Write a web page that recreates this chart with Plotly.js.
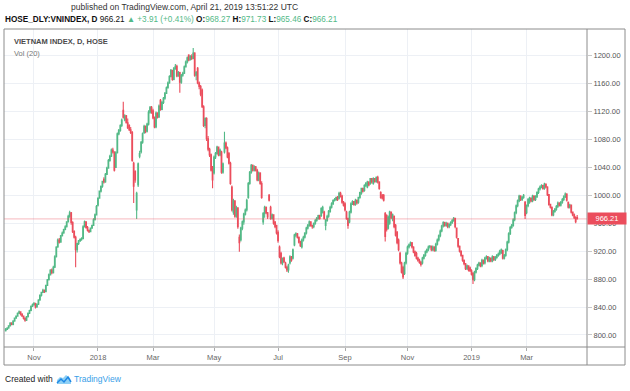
<!DOCTYPE html>
<html>
<head>
<meta charset="utf-8">
<script src="https://cdn.plot.ly/plotly-3.0.1.min.js"></script>
<style>
html,body{margin:0;padding:0;background:#fff;}
#chart{width:630px;height:391px;}
</style>
</head>
<body>
<div id="chart"></div>
<script>
// ---- DATA (VN-Index daily, Oct 2017 – Apr 2019) ----
const firstDay = '2017-10-05';
const lastDay = '2019-04-19';
const holidays = ['2018-01-01','2018-02-14','2018-02-15','2018-02-16','2018-02-19','2018-02-20',
  '2018-04-25','2018-04-30','2018-05-01','2018-09-03','2019-01-01',
  '2019-02-04','2019-02-05','2019-02-06','2019-02-07','2019-02-08','2019-04-15'];

const openV = [
806,808,810,813,817,815,820,824,827,831,833,830,827,824,821,826,831,835,841,
843,845,840,844,850,857,861,864,862,871,879,886,893,889,897,912,926,936,933,942,946,951,
955,962,970,975,961,948,940,922,931,935,937,938,955,962,954,950,948,953,957,965,972,
986,996,1006,1013,1023,1019,1030,1039,1050,1056,1065,1062,1040,1061,1088,1093,1100,1122,1108,1114,1104,1100,
1094,1090,1046,1034,979,1015,1056,1062,1076,1090,1099,1092,1102,1119,1126,
1121,1111,1098,1118,1112,1136,1123,1133,1139,1146,1154,1161,1170,1179,1166,1182,1185,1171,1176,1162,1172,1175,
1184,1191,1201,1194,1199,1196,1204,1172,1182,1161,1156,1151,1127,1100,1110,1081,1066,1058,1040,
1032,1055,1060,1069,1058,1062,1033,1062,1075,1068,1060,1046,1012,976,992,970,982,940,936,953,962,973,
979,997,1017,1033,1043,1036,1041,1036,1022,1032,1017,962,974,983,975,1000,983,967,972,962,957,
947,926,917,903,910,903,897,893,903,912,910,929,943,945,940,933,926,936,940,946,953,957,
962,957,955,960,964,967,971,971,976,976,957,964,970,977,983,988,993,994,997,996,1003,999,990,
988,976,967,962,976,988,991,987,993,990,997,1003,1010,1007,1014,1012,1019,1017,1024,
1017,1024,1020,1026,1019,1004,1000,1000,974,971,953,960,976,966,970,957,947,936,917,903,897,888,903,
917,926,929,932,926,919,917,910,907,904,903,910,914,919,922,926,927,922,926,921,930,936,
942,949,956,961,957,960,955,958,961,964,967,953,938,927,920,914,907,902,895,899,896,
892,888,879,890,895,900,903,899,907,903,910,912,906,910,906,912,908,911,914,916,918,921,
910,914,922,933,945,954,957,965,975,985,992,999,994,997,990,
975,985,990,996,992,999,994,998,1004,1009,1012,1014,1010,1016,1012,1001,987,983,972,977,980,
984,989,986,990,994,998,1002,990,983,986,976,972,968,968.27
];
const highV = [
810,811,814,818,818,821,825,828,832,835,834,831,828,825,827,832,836,842,845,
847,846,845,851,858,862,866,865,872,880,888,894,895,899,914,927,938,939,943,948,952,957,
963,972,978,976,963,950,942,932,936,938,940,957,964,963,956,951,954,958,967,974,986,
997,1007,1014,1021,1026,1032,1041,1052,1058,1067,1068,1063,1063,1090,1095,1102,1110,1134,1116,1115,1110,1102,
1098,1092,1048,1036,1005,1047,1064,1078,1090,1101,1100,1104,1122,1128,1128,
1124,1113,1120,1119,1130,1138,1135,1141,1148,1156,1163,1172,1181,1180,1184,1188,1187,1178,1177,1174,1177,1186,
1193,1199,1202,1201,1202,1211,1205,1178,1184,1163,1158,1153,1129,1112,1112,1085,1068,1060,1042,
1057,1062,1071,1070,1067,1064,1047,1091,1077,1070,1062,1048,1014,995,993,985,983,944,955,964,975,981,
995,1019,1035,1045,1044,1043,1042,1038,1034,1033,1020,976,985,984,976,1002,985,974,973,963,958,
950,928,919,911,912,905,899,902,914,913,924,945,947,946,941,935,938,942,947,955,959,964,
963,958,961,966,969,972,972,983,985,978,966,972,979,985,990,994,996,998,999,1005,1005,1001,992,
990,978,968,978,990,993,992,995,994,998,1005,1011,1011,1016,1019,1021,1020,1025,1025,
1026,1025,1027,1028,1020,1006,1002,1002,976,973,971,978,977,974,971,959,949,938,919,905,899,905,919,
928,931,934,933,927,921,919,912,909,906,912,916,921,924,928,929,928,928,927,932,938,944,
951,958,963,962,962,961,960,963,966,969,968,954,939,928,921,915,908,903,901,900,898,
894,890,892,897,902,905,904,909,908,912,914,913,912,911,914,913,913,916,918,922,924,922,
916,924,935,947,956,959,967,977,987,994,1001,1000,999,1002,992,
987,996,998,997,1001,1000,1000,1006,1011,1014,1016,1015,1018,1017,1013,1002,988,984,979,982,986,
991,990,992,996,1000,1004,1003,991,988,987,977,974,970,971.73
];
const lowV = [
805,807,809,812,814,814,819,823,826,830,828,826,822,819,820,825,830,834,840,
842,838,839,843,849,855,860,860,861,870,878,885,887,888,896,911,925,931,932,941,945,950,
954,961,968,958,946,938,897,918,929,933,935,937,954,952,948,946,947,952,956,964,971,
984,995,1004,1011,1017,1018,1029,1038,1048,1055,1060,1034,1039,1060,1086,1091,1098,1110,1106,1103,1095,1092,
1088,1048,989,1018,966,1012,1053,1060,1074,1088,1089,1090,1100,1117,1117,
1109,1096,1096,1110,1111,1121,1122,1131,1137,1145,1153,1160,1169,1164,1165,1180,1169,1170,1147,1160,1170,1174,
1183,1189,1192,1193,1194,1195,1170,1165,1159,1152,1142,1125,1098,1096,1078,1063,1055,1034,1010,
1030,1052,1058,1056,1056,1031,1031,1060,1066,1053,1044,1015,977,972,968,968,952,919,934,950,958,971,
977,995,1015,1031,1034,1034,1034,1020,1020,1015,995,958,968,973,966,991,965,965,958,953,944,
932,910,901,900,903,895,890,889,901,905,908,927,940,938,931,926,924,934,938,944,951,955,
955,952,953,958,962,965,965,969,974,965,950,962,968,975,981,986,991,992,992,994,997,988,984,
977,965,952,960,974,986,985,985,987,988,995,1001,1004,1005,1012,1010,1013,1015,1017,
1015,1018,1018,1017,1008,995,994,991,934,948,951,958,966,963,953,941,930,920,901,888,880,886,901,
915,924,927,924,917,912,908,905,902,898,901,908,912,917,920,924,920,920,919,919,928,934,
940,947,954,955,955,953,953,956,959,962,953,938,925,918,912,905,900,893,893,891,890,
885,873,877,888,893,898,897,897,901,901,908,904,904,904,904,906,906,909,912,914,916,908,
908,912,920,931,943,952,955,963,973,983,990,992,992,995,966,
973,983,988,990,990,992,992,996,1002,1007,1010,1008,1008,1010,999,985,981,970,970,975,978,
982,984,984,988,992,996,991,981,981,974,970,966,960,965.46
];
const closeV = [
808,810,813,817,815,820,824,827,831,833,830,827,824,821,826,831,835,841,843,
845,840,844,850,857,861,864,862,871,879,886,893,889,897,912,926,936,933,942,946,951,955,
962,970,975,961,948,940,922,931,935,937,938,955,962,954,950,948,953,957,965,972,984,
996,1006,1013,1020,1019,1030,1039,1050,1056,1065,1062,1036,1061,1088,1093,1100,1108,1112,1114,1104,1097,1094,
1090,1050,1013,1022,1003,1045,1060,1076,1088,1099,1092,1102,1119,1126,1121,
1111,1098,1118,1112,1128,1123,1133,1139,1146,1154,1161,1170,1179,1166,1182,1185,1171,1176,1162,1172,1175,1184,
1191,1197,1194,1199,1196,1204,1172,1176,1161,1156,1145,1127,1100,1110,1081,1066,1058,1036,1022,
1055,1060,1069,1058,1065,1033,1045,1075,1068,1055,1046,1017,979,992,970,982,955,932,953,962,973,979,
993,1017,1033,1043,1036,1041,1036,1022,1032,1017,997,974,983,975,969,993,967,972,960,955,946,
935,912,903,910,905,897,893,900,912,907,922,943,945,940,933,928,936,940,946,953,957,962,
957,955,960,964,967,971,967,981,983,967,964,970,977,983,988,993,994,997,994,1003,999,990,986,
979,967,957,976,988,991,987,993,989,997,1004,1010,1006,1014,1017,1019,1015,1024,1019,
1024,1020,1026,1019,1010,997,996,993,941,951,969,976,968,972,955,943,932,922,903,890,883,903,917,
926,929,932,926,919,914,910,907,904,901,910,914,919,922,926,927,922,926,921,930,936,942,
949,956,961,957,960,955,958,961,964,967,955,940,927,920,914,907,902,895,899,893,892,
887,879,890,895,900,903,899,907,903,910,912,906,910,906,912,908,911,914,916,920,922,910,
914,922,933,945,954,957,965,975,985,992,999,994,997,1000,971,
985,994,996,992,999,994,998,1004,1009,1012,1014,1010,1016,1012,1001,987,983,972,977,980,984,
989,986,990,994,998,1002,993,983,986,976,972,968,962.3,966.21
];

const tickMonths = ['2017-11','2018-01','2018-03','2018-05','2018-07','2018-09','2018-11','2019-01','2019-03'];
const tickLabels = ['Nov','2018','Mar','May','Jul','Sep','Nov','2019','Mar'];

// ---- trading-day calendar ----
function tradingDays(a, b, hol) {
  const out = [];
  const d = new Date(a + 'T00:00:00Z');
  const end = new Date(b + 'T00:00:00Z');
  while (d <= end) {
    const s = d.toISOString().slice(0, 10);
    const wd = d.getUTCDay();
    if (wd !== 0 && wd !== 6 && hol.indexOf(s) < 0) out.push(s);
    d.setUTCDate(d.getUTCDate() + 1);
  }
  return out;
}
let dates = tradingDays(firstDay, lastDay, holidays);
const n = Math.min(dates.length, closeV.length);
dates = dates.slice(dates.length - n);
const O = openV.slice(openV.length - n), H = highV.slice(highV.length - n),
      L = lowV.slice(lowV.length - n), C = closeV.slice(closeV.length - n);

const tickvals = tickMonths.map(m => dates.find(d => d.indexOf(m) === 0));

const up = '#53b987', down = '#eb4d5c';
const last = n - 1;
const chg = C[last] - C[last - 1];
const pct = chg / C[last - 1] * 100;
const f2 = v => v.toFixed(2);
const g = s => '<span style="color:' + up + '">' + s + '</span>';

// pixel -> paper helpers (plot area x 4..587, y 29..347)
const px = x => (x - 4) / 583;
const py = y => (347 - y) / 318;

const FONT = 'Liberation Sans, Arial, sans-serif';

const trace = {
  type: 'candlestick',
  x: dates, open: O, high: H, low: L, close: C,
  increasing: {line: {color: up, width: 1.1}, fillcolor: up},
  decreasing: {line: {color: down, width: 1.1}, fillcolor: down},
  whiskerwidth: 0,
  hoverinfo: 'skip'
};

const lineCol = '#8c8c8c';
const layout = {
  width: 630, height: 391,
  margin: {l: 4, r: 43, t: 29, b: 44, pad: 0},
  paper_bgcolor: '#fff', plot_bgcolor: '#fff',
  showlegend: false,
  font: {family: FONT, color: '#555'},
  xaxis: {
    type: 'category', range: [-1.14, 390.6],
    tickvals: tickvals, ticktext: tickLabels,
    showgrid: true, gridcolor: '#edf0f5', gridwidth: 1,
    ticks: 'outside', ticklen: 3, tickcolor: '#aaa',
    tickfont: {size: 7.5, color: '#666', family: FONT},
    showline: false, zeroline: false,
    rangeslider: {visible: false}, fixedrange: true
  },
  yaxis: {
    side: 'right', range: [782.7, 1238.3],
    tick0: 0, dtick: 40, tickformat: '.2f',
    showgrid: true, gridcolor: '#edf0f5', gridwidth: 1,
    ticks: 'outside', ticklen: 4, tickcolor: '#c8c8c8',
    tickfont: {size: 7.5, color: '#555', family: FONT},
    showline: false, zeroline: false, fixedrange: true
  },
  shapes: [
    {type: 'line', xref: 'paper', yref: 'y', x0: 0, x1: 1, y0: C[last], y1: C[last],
     line: {color: 'rgba(235,77,92,0.4)', width: 1}},
    {type: 'rect', xref: 'paper', yref: 'paper', x0: px(4), x1: px(625), y0: py(365), y1: py(29),
     line: {color: lineCol, width: 1}},
    {type: 'line', xref: 'paper', yref: 'paper', x0: px(587), x1: px(587), y0: py(365), y1: py(29),
     line: {color: lineCol, width: 1}},
    {type: 'line', xref: 'paper', yref: 'paper', x0: px(4), x1: px(625), y0: py(347), y1: py(347),
     line: {color: lineCol, width: 1}},
    // TradingView logo
    {type: 'path', xref: 'paper', yref: 'paper',
     path: 'M' + px(57) + ',' + py(384) + ' L' + px(57) + ',' + py(380) + ' L' + px(60) + ',' + py(377) +
           ' L' + px(63) + ',' + py(378) + ' L' + px(66) + ',' + py(375) + ' L' + px(70) + ',' + py(378) +
           ' L' + px(71) + ',' + py(384) + ' Z',
     fillcolor: '#8fd0f5', line: {width: 0}},
    {type: 'path', xref: 'paper', yref: 'paper',
     path: 'M' + px(57) + ',' + py(383) + ' L' + px(61) + ',' + py(379) + ' L' + px(64) + ',' + py(382) +
           ' L' + px(68) + ',' + py(377) + ' L' + px(71) + ',' + py(382),
     line: {color: '#1e88e5', width: 1.5}}
  ],
  annotations: [
    {xref: 'paper', yref: 'paper', x: px(184), y: py(7), xanchor: 'center', yanchor: 'middle',
     showarrow: false, text: 'published on TradingView.com, April 21, 2019 13:51:22 UTC',
     font: {size: 8.5, color: '#333', family: FONT}},
    {xref: 'paper', yref: 'paper', x: px(3), y: py(20), xanchor: 'left', yanchor: 'middle',
     showarrow: false,
     text: '<b>HOSE_DLY:VNINDEX, D</b> ' + f2(C[last]) + ' ' + g('▲ +' + f2(chg) + ' (+' + f2(pct) + '%)') +
           ' <b>O:</b>' + g(f2(O[last])) + ' <b>H:</b>' + g(f2(H[last])) +
           ' <b>L:</b>' + g(f2(L[last])) + ' <b>C:</b>' + g(f2(C[last])),
     font: {size: 8.2, color: '#111', family: FONT}},
    {xref: 'paper', yref: 'paper', x: px(12), y: py(41), xanchor: 'left', yanchor: 'middle',
     showarrow: false, text: '<b>VIETNAM INDEX, D, HOSE</b>',
     font: {size: 7.5, color: '#4a4a4a', family: FONT}},
    {xref: 'paper', yref: 'paper', x: px(12), y: py(54), xanchor: 'left', yanchor: 'middle',
     showarrow: false, text: 'Vol (20)',
     font: {size: 7.5, color: '#777', family: FONT}},
    {xref: 'paper', yref: 'y', x: px(587), y: C[last], xanchor: 'left', yanchor: 'middle',
     showarrow: false, text: f2(C[last]), bgcolor: down, borderpad: 1, width: 36, height: 9,
     font: {size: 7.5, color: '#fff', family: FONT}},
    {xref: 'paper', yref: 'paper', x: px(3), y: py(379), xanchor: 'left', yanchor: 'middle',
     showarrow: false, text: 'Created with',
     font: {size: 8.5, color: '#222', family: FONT}},
    {xref: 'paper', yref: 'paper', x: px(72), y: py(379), xanchor: 'left', yanchor: 'middle',
     showarrow: false, text: 'TradingView',
     font: {size: 8.5, color: '#3aa0e8', family: FONT}}
  ]
};

Plotly.newPlot('chart', [trace], layout, {staticPlot: true, displayModeBar: false});
</script>
</body>
</html>
